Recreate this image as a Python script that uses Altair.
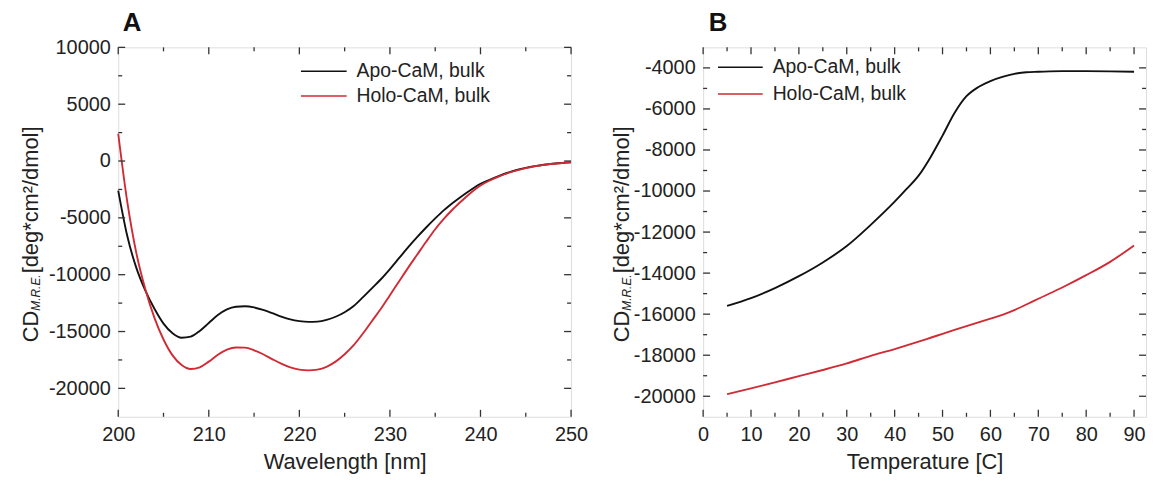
import altair as alt
import pandas as pd

FONT = "Liberation Sans"

series_names = ["Apo-CaM, bulk", "Holo-CaM, bulk"]
series_colors = ["#111111", "#d02a34"]

# ---- Panel A: CD spectra ----
wavelength = list(range(200, 251))
apo_spec = [-2600, -6600, -9400, -11400, -13000, -14300, -15150, -15550, -15450, -14950,
            -14250, -13550, -13050, -12820, -12780, -12880, -13100, -13380, -13680, -13930,
            -14080, -14150, -14130, -13980, -13700, -13300, -12750, -12000, -11200, -10400,
            -9500, -8550, -7600, -6700, -5850, -5050, -4300, -3650, -3050, -2500,
            -2000, -1650, -1320, -1030, -790, -600, -450, -330, -240, -170, -120]
holo_spec = [2400, -3600, -8100, -11300, -13800, -15700, -17100, -17950, -18300, -18150,
             -17650, -17050, -16600, -16400, -16420, -16650, -17000, -17420, -17820, -18150,
             -18350, -18420, -18350, -18100, -17650, -17000, -16200, -15200, -14100, -13000,
             -11800, -10600, -9400, -8250, -7100, -6000, -5050, -4200, -3450, -2750,
             -2150, -1720, -1370, -1070, -820, -620, -460, -335, -240, -170, -120]

# ---- Panel B: thermal melts ----
temperature = [5, 10, 15, 20, 25, 30, 35, 40, 42.5, 45, 47.5, 50, 52.5, 55, 57.5, 60,
               62.5, 65, 67.5, 70, 75, 80, 85, 90]
apo_melt = [-15600, -15220, -14730, -14150, -13480, -12680, -11650, -10520, -9900, -9250,
            -8350, -7300, -6200, -5380, -4930, -4640, -4440, -4290, -4210, -4190,
            -4160, -4160, -4170, -4190]
holo_melt = [-19900, -19620, -19320, -19020, -18720, -18400, -18030, -17700, -17520, -17340,
             -17150, -16960, -16770, -16580, -16400, -16220, -16030, -15800, -15530, -15250,
             -14700, -14100, -13450, -12650]

# tick values
a_x_major = [200, 210, 220, 230, 240, 250]
a_x_minor = [205, 215, 225, 235, 245]
a_y_major = [-20000, -15000, -10000, -5000, 0, 5000, 10000]
a_y_minor = [-17500, -12500, -7500, -2500, 2500, 7500]
b_x_major = [0, 10, 20, 30, 40, 50, 60, 70, 80, 90]
b_x_minor = [5, 15, 25, 35, 45, 55, 65, 75, 85]
b_y_major = [-20000, -18000, -16000, -14000, -12000, -10000, -8000, -6000, -4000]
b_y_minor = [-19000, -17000, -15000, -13000, -11000, -9000, -7000, -5000]

FRAME = "#333333"
HYPHEN_LABEL = "datum.value < 0 ? '-' + format(-datum.value, 'd') : format(datum.value, 'd')"


def long_df(xs, ys_list):
    rows = []
    for name, ys in zip(series_names, ys_list):
        for x, y in zip(xs, ys):
            rows.append({"x": x, "v": y, "series": name})
    return pd.DataFrame(rows)


def panel(df, xtitle, xdom, ydom, xmaj, xmin, ymaj, ymin, W, H, label,
          ytx, ybot, leg_x0, leg_x1, leg_tx, leg_y, lab_x):
    xs = alt.Scale(domain=xdom, nice=False, zero=False)
    ys = alt.Scale(domain=ydom, nice=False, zero=False)
    x_axis = alt.Axis(
        values=xmaj, ticks=False, domain=False, grid=False, labelFlush=False,
        labelFont=FONT, labelFontSize=20, labelColor="#222", labelPadding=8,
        title=xtitle, titleFont=FONT, titleFontSize=22, titleFontWeight="normal",
        titleColor="#222", titlePadding=7)
    y_axis = alt.Axis(
        values=ymaj, ticks=False, domain=False, grid=False, labelExpr=HYPHEN_LABEL,
        labelFont=FONT, labelFontSize=20, labelColor="#222", labelPadding=8,
        labelFlush=False, title=None)
    lines = alt.Chart(df).mark_line(strokeWidth=1.9, interpolate="monotone").encode(
        x=alt.X("x:Q", scale=xs, axis=x_axis),
        y=alt.Y("v:Q", scale=ys, axis=y_axis),
        color=alt.Color("series:N", scale=alt.Scale(domain=series_names, range=series_colors),
                        legend=None),
    )
    layers = [lines]

    def xticks(vals, length):
        d = pd.DataFrame({"x": vals})
        bot = alt.Chart(d).mark_rule(color=FRAME, strokeWidth=1.3).encode(
            x=alt.X("x:Q", scale=xs, axis=x_axis), y=alt.value(H), y2=alt.value(H - length))
        top = alt.Chart(d).mark_rule(color=FRAME, strokeWidth=1.3).encode(
            x=alt.X("x:Q", scale=xs, axis=x_axis), y=alt.value(0), y2=alt.value(length))
        return [bot, top]

    def yticks(vals, length):
        d = pd.DataFrame({"v": vals})
        left = alt.Chart(d).mark_rule(color=FRAME, strokeWidth=1.3).encode(
            y=alt.Y("v:Q", scale=ys, axis=y_axis), x=alt.value(0), x2=alt.value(length))
        right = alt.Chart(d).mark_rule(color=FRAME, strokeWidth=1.3).encode(
            y=alt.Y("v:Q", scale=ys, axis=y_axis), x=alt.value(W), x2=alt.value(W - length))
        return [left, right]

    layers += xticks(xmaj, 7) + xticks(xmin, 4) + yticks(ymaj, 7) + yticks(ymin, 4)

    # legend
    for i, (name, col) in enumerate(zip(series_names, series_colors)):
        d = pd.DataFrame({"label": [name]})
        layers.append(alt.Chart(d).mark_rule(color=col, strokeWidth=1.6).encode(
            x=alt.value(leg_x0), x2=alt.value(leg_x1), y=alt.value(leg_y[i])))
        layers.append(alt.Chart(d).mark_text(
            align="left", baseline="middle", font=FONT, fontSize=19.5, color="#222").encode(
            x=alt.value(leg_tx), y=alt.value(leg_y[i]), text="label:N"))

    # panel letter
    layers.append(alt.Chart(pd.DataFrame({"t": [label]})).mark_text(
        align="center", baseline="middle", font=FONT, fontSize=26, fontWeight="bold",
        color="#111").encode(x=alt.value(lab_x), y=alt.value(-24), text="t:N"))

    # y title with subscript
    cd_w = 22 * 1.444
    sub_w = 12 * 3.056
    parts = [("CD", 22, "normal", ybot, ytx),
             ("M.R.E.", 12, "italic", ybot - cd_w, ytx + 5),
             ("[deg*cm²/dmol]", 22, "normal", ybot - cd_w - sub_w - 1, ytx)]
    for txt, fs, style, yy, xx in parts:
        layers.append(alt.Chart(pd.DataFrame({"t": [txt]})).mark_text(
            align="left", baseline="middle", angle=270, font=FONT, fontSize=fs,
            fontStyle=style, color="#222").encode(
            x=alt.value(xx), y=alt.value(yy), text="t:N"))

    return alt.layer(*layers).properties(width=W, height=H)


df_a = long_df(wavelength, [apo_spec, holo_spec])
df_b = long_df(temperature, [apo_melt, holo_melt])

pa = panel(df_a, "Wavelength [nm]", [200, 250], [-22500, 10000],
           a_x_major, a_x_minor, a_y_major, a_y_minor, 456, 372, "A",
           ytx=-88, ybot=297, leg_x0=184, leg_x1=230, leg_tx=240, leg_y=[24, 49], lab_x=14)
pb = panel(df_b, "Temperature [C]", [0, 92.5], [-21000, -3000],
           b_x_major, b_x_minor, b_y_major, b_y_minor, 446, 372, "B",
           ytx=-82, ybot=297, leg_x0=15, leg_x1=60, leg_tx=70, leg_y=[20, 47], lab_x=15)

chart = alt.hconcat(pa, pb, spacing=21).properties(
    padding={"left": 11, "top": 0, "right": 2, "bottom": 2}
).configure_view(stroke=FRAME, strokeWidth=1.5).configure(background="white")

chart.save("out.html", embed_options={"renderer": "svg", "actions": False})
